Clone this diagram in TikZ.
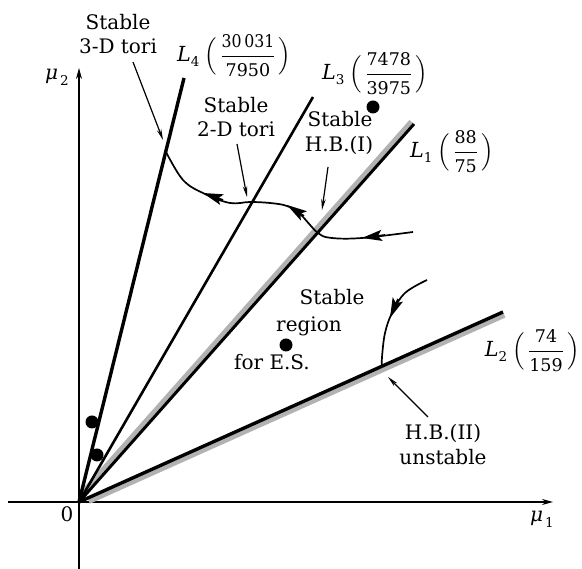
\documentclass[tikz,border=0pt]{standalone}
\usepackage{amsmath}
\usepackage{fontspec}
\setmainfont{DejaVu Serif}
\usepackage{graphicx}
\usetikzlibrary{arrows.meta,calc}
\newcommand{\dg}[1]{\mbox{\fontsize{17.5}{20}\selectfont #1}}
\newcommand{\sbx}[2]{\raisebox{-#1}{\fontsize{13.5}{14}\selectfont #2}}
\newcommand{\Llab}[3]{\textit{L}\sbx{4.5pt}{#1}\hspace{5pt}$\Bigl(\,\dfrac{\dg{#2}}{\dg{#3}}\,\Bigr)$}
\begin{document}
\begin{tikzpicture}[x=1pt,y=1pt,
  lab/.style={font=\fontsize{20}{24}\selectfont, inner sep=0pt, anchor=base},
  mulab/.style={font=\fontsize{20}{24}\selectfont, inner sep=0pt, anchor=base},
  mlab/.style={font=\fontsize{20.74}{26}\selectfont, inner sep=0pt, anchor=base west},
  axisline/.style={line width=1.4pt, -{Stealth[length=11pt,width=6pt]}},
  bline/.style={line width=3pt},
  grayband/.style={line width=4.5pt, draw=gray!60},
  dot/.style={circle, fill=black, inner sep=0pt, minimum size=13pt},
  ann/.style={line width=1.2pt, -{Stealth[length=11pt,width=4.5pt]}},
  flow/.style={line width=1.7pt},
  flowtip/.style={line width=1.7pt, -{Stealth[length=20pt,width=11pt,inset=4pt]}}
]
\useasboundingbox (0,0) rectangle (582,569);
% key points
\coordinate (O) at (79,67);
\coordinate (xl) at (8,67);
\coordinate (xr) at (553,67);
\coordinate (yb) at (79,0);
\coordinate (yt) at (79,501);
\coordinate (L4e) at (184,491);
\coordinate (L3e) at (313,472);
\coordinate (L1e) at (414,445);
\coordinate (L2e) at (503,257);
% axes
\draw[axisline] (xl) -- (xr);
\draw[axisline] (yb) -- (yt);
% gray bands
\draw[grayband] ($(O)!0.02!(L1e)+(-2.85,2.52)$) -- ($(L1e)+(-2.85,2.52)$);
\draw[grayband] ($(O)!0.02!(L2e)+(1.55,-3.47)$) -- ($(L2e)+(1.55,-3.47)$);
% lines
\draw[line width=3.4pt] (O) -- (L4e);
\draw[line width=2.6pt] (O) -- (L3e);
\draw[bline] (O) -- (L1e);
\draw[line width=3.4pt] (O) -- (L2e);
% dots
\node[dot] (d1) at (373,462) {};
\node[dot] (d2) at (286,224) {};
\node[dot] (d3) at (92,147) {};
\node[dot] (d4) at (97,114) {};
% axis labels
\node[mulab] (mu2) at (57,489) {\textit{μ}\hspace{2pt}\sbx{6pt}{2}};
\node[mulab] (mu1) at (542,47) {\textit{μ}\hspace{2pt}\sbx{6pt}{1}};
\node[lab] (zero) at (67,47) {0};
% line labels
\node[mlab] (l4) at (177,507) {\Llab{4}{\scalebox{0.9}[1]{30\,031}}{7950}};
\node[mlab] (l3) at (322,489) {\Llab{3}{7478}{3975}};
\node[mlab] (l1) at (410,411) {\Llab{1}{88}{75}};
\node[mlab, anchor=base east] (l2) at (580,212) {\Llab{2}{74}{159}};
% text labels
\node[lab] (s3a) at (118,539) {Stable};
\node[lab] (s3b) at (118,515) {3-D tori};
\node[lab] (s2a) at (236,456) {Stable};
\node[lab] (s2b) at (236,432) {2-D tori};
\node[lab] (hba) at (340,442) {Stable};
\node[lab] (hbb) at (339,417) {H.B.(I)};
\node[lab] (sra) at (332,264) {Stable};
\node[lab] (srb) at (309,237) {region};
\node[lab] (src) at (272,199) {for E.S.};
\node[lab] (hca) at (443,129) {H.B.(II)};
\node[lab] (hcb) at (443,104) {unstable};
% annotation arrows
\coordinate (a1s) at (133,507); \coordinate (a1e) at (163,429);
\coordinate (a2s) at (237,425); \coordinate (a2e) at (247,372);
\coordinate (a3s) at (328,402); \coordinate (a3e) at (322,359);
\coordinate (a4s) at (428,152); \coordinate (a4e) at (388,192);
\draw[ann] (a1s) -- (a1e);
\draw[ann] (a2s) -- (a2e);
\draw[ann] (a3s) -- (a3e);
\draw[ann] (a4s) -- (a4e);
% flow curve 1
\draw[flow] plot[smooth, tension=0.6] coordinates {(413,337) (362,331) (332,331) (318,336) (300,355) (287,363) (270,366) (250,367) (230,366) (205,375) (183,389) (165,419)};
\coordinate (t1s) at (385,334); \coordinate (t1e) at (362,331);
\coordinate (t2s) at (304,353); \coordinate (t2e) at (287,364);
\coordinate (t3s) at (223,369); \coordinate (t3e) at (203,376);
\draw[flowtip] (t1s) -- (t1e);
\draw[flowtip] (t2s) -- (t2e);
\draw[flowtip] (t3s) -- (t3e);
% flow curve 2
\draw[flow] plot[smooth, tension=0.6] coordinates {(427,289) (405,276) (392,256) (385,236) (382,212) (382,203)};
\coordinate (t4s) at (398,270); \coordinate (t4e) at (390,251);
\draw[flowtip] (t4s) -- (t4e);
\end{tikzpicture}
\end{document}
